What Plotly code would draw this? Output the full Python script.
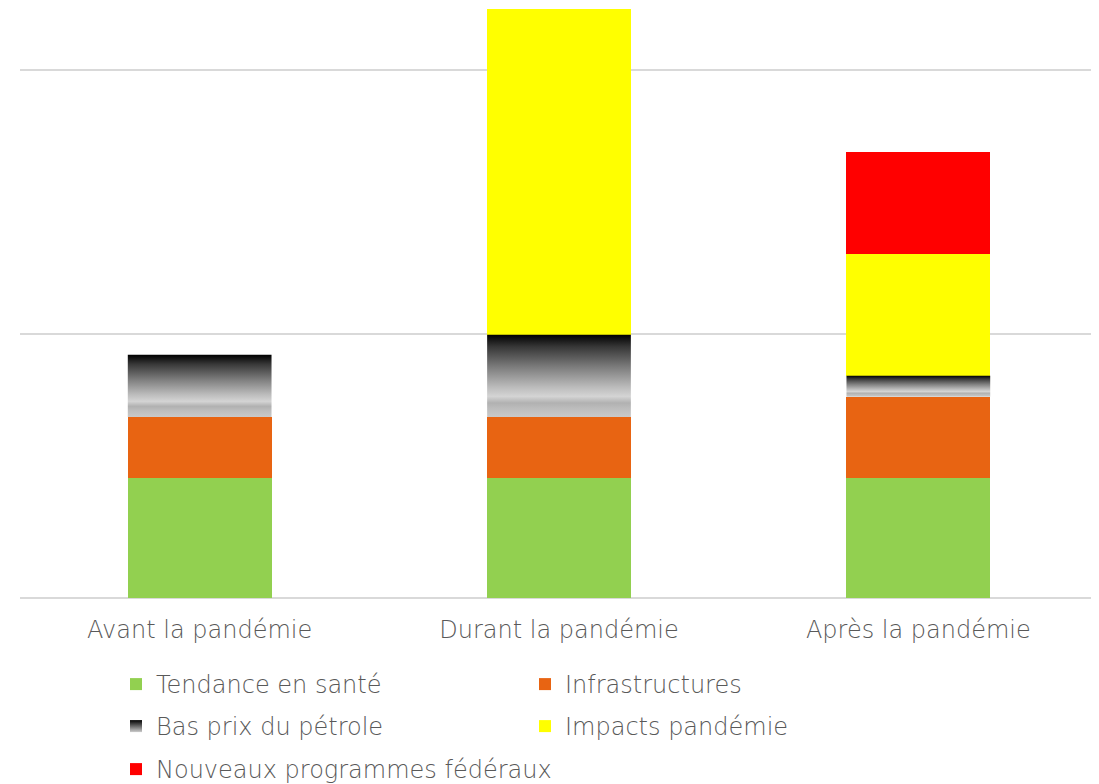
import plotly.graph_objects as go

categories = ["Avant la pandémie", "Durant la pandémie", "Après la pandémie"]
sante = [4.55, 4.55, 4.55]
infrastructures = [2.31, 2.31, 3.07]
petrole = [2.35, 3.11, 0.80]
impacts = [0.0, 12.35, 4.62]
federaux = [0.0, 0.0, 3.86]

FONT = "DejaVu Sans"
TXT = "#595959"
FSIZE = 24
BAR_W = 0.4
xpos = list(range(len(categories)))

W, H = 1091, 776  # page body adds an 8px offset

fig = go.Figure()
fig.add_trace(go.Bar(x=xpos, y=sante, name="Tendance en santé", width=BAR_W,
                     marker=dict(color="#92d050", line=dict(width=0)), legend="legend"))
fig.add_trace(go.Bar(x=xpos, y=infrastructures, name="Infrastructures", width=BAR_W,
                     marker=dict(color="#e86412", line=dict(width=0)), legend="legend"))
fig.add_trace(go.Bar(x=xpos, y=petrole, name="Bas prix du pétrole", width=BAR_W, showlegend=False,
                     marker=dict(color="rgba(0,0,0,0)", line=dict(width=0))))
fig.add_trace(go.Bar(x=xpos, y=impacts, name="Impacts pandémie", width=BAR_W, showlegend=False,
                     marker=dict(color="#ffff00", line=dict(width=0))))
fig.add_trace(go.Bar(x=xpos, y=federaux, name="Nouveaux programmes fédéraux", width=BAR_W, showlegend=False,
                     marker=dict(color="#ff0000", line=dict(width=0))))

grad = [[0, "#c9c9c9"], [0.10, "#bdbdbd"], [0.17, "#b1b1b1"], [0.25, "#d4d4d4"],
        [0.36, "#bcbcbc"], [0.6, "#7e7e7e"], [0.85, "#383838"], [1, "#000000"]]
for i, x in enumerate(xpos):
    base = sante[i] + infrastructures[i]
    top = base + petrole[i]
    x0, x1 = x - BAR_W / 2, x + BAR_W / 2
    fig.add_trace(go.Scatter(x=[x0, x1, x1, x0, x0], y=[base, base, top, top, base],
                             mode="none", fill="toself", showlegend=False, hoverinfo="skip",
                             fillgradient=dict(type="vertical", colorscale=grad, start=base, stop=top)))

# legend entries (rows 2 and 3)
fig.add_trace(go.Scatter(x=[None], y=[None], mode="markers", name="Bas prix du pétrole",
                         marker=dict(symbol="square", size=12, color="#000000",
                                     gradient=dict(type="vertical", color="#cccccc")),
                         legend="legend2"))
fig.add_trace(go.Bar(x=[None], y=[None], name="Impacts pandémie",
                     marker=dict(color="#ffff00", line=dict(width=0)), legend="legend2"))
fig.add_trace(go.Bar(x=[None], y=[None], name="Nouveaux programmes fédéraux",
                     marker=dict(color="#ff0000", line=dict(width=0)), legend="legend3"))

fnt = dict(family=FONT, size=FSIZE, color=TXT, weight=300)
leg_common = dict(orientation="h", xref="container", yref="container", x=108 / W,
                  xanchor="left", yanchor="top", entrywidth=364, entrywidthmode="pixels",
                  font=fnt, bgcolor="rgba(0,0,0,0)", traceorder="normal")

fig.update_layout(
    width=W, height=H,
    margin=dict(l=12, r=1, t=0, b=186),
    barmode="stack", bargap=0,
    plot_bgcolor="white", paper_bgcolor="white",
    font=fnt,
    xaxis=dict(range=[-0.5, 2.5], tickvals=xpos, ticktext=categories, showgrid=False,
               zeroline=False, showline=False, ticks="", ticklabelstandoff=15,
               tickfont=fnt),
    yaxis=dict(range=[0, 590 / 26.4], dtick=10, showticklabels=False, gridcolor="#d9d9d9",
               gridwidth=2, zeroline=True, zerolinecolor="#d9d9d9", zerolinewidth=2),
    legend=dict(leg_common, y=1 - 654 / H),
    legend2=dict(leg_common, y=1 - 696 / H),
    legend3=dict(leg_common, y=1 - 739 / H, entrywidth=600),
    showlegend=True,
)

fig.write_html("out.html")
